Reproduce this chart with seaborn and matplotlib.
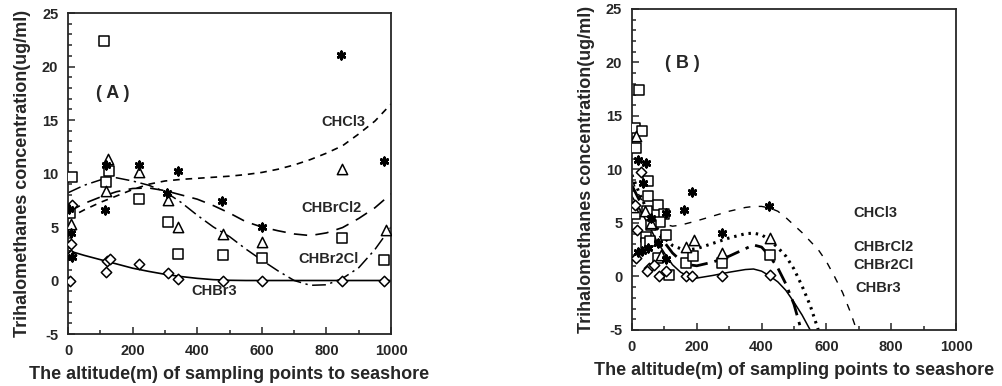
import seaborn as sns
import matplotlib.pyplot as plt
from matplotlib.ticker import MultipleLocator

# ---- panel A: measured points ----
a_chcl3_x = [4, 8, 13, 117, 114, 220, 307, 339, 478, 599, 844, 978]
a_chcl3_y = [6.7, 4.4, 2.2, 10.8, 6.6, 10.8, 8.2, 10.2, 7.4, 5.0, 21.1, 11.2]
a_chbrcl2_x = [10, 117, 124, 220, 309, 340, 480, 599, 848, 983]
a_chbrcl2_y = [5.3, 8.4, 11.4, 10.1, 7.5, 5.0, 4.3, 3.6, 10.4, 4.7]
a_chbr2cl_x = [5, 13, 111, 117, 127, 220, 309, 340, 480, 599, 848, 978]
a_chbr2cl_y = [6.3, 9.7, 22.4, 9.2, 10.2, 7.6, 5.5, 2.5, 2.4, 2.1, 4.0, 1.9]
a_chbr3_x = [5, 8, 13, 10, 117, 121, 129, 221, 309, 340, 480, 599, 848, 978]
a_chbr3_y = [0, 3.4, 7.1, 2.4, 0.8, 1.8, 2.0, 1.5, 0.7, 0.1, 0, 0, 0, 0]

# ---- panel A: fitted curves ----
a_fit_x = [0, 50, 100, 150, 200, 250, 300, 350, 400, 450, 500,
           550, 600, 650, 700, 750, 800, 850, 900, 950, 1000]
a_fit_chcl3 = [5.8, 6.6, 7.3, 7.9, 8.5, 9.0, 9.3, 9.45, 9.55, 9.65, 9.75,
               9.9, 10.1, 10.4, 10.8, 11.3, 11.9, 12.6, 13.7, 14.9, 16.5]
a_fit_chbrcl2 = [6.4, 7.2, 7.8, 8.3, 8.6, 8.65, 8.4, 8.0, 7.6, 7.0, 6.3,
                 5.5, 5.0, 4.65, 4.35, 4.2, 4.45, 4.95, 5.8, 6.8, 8.1]
a_fit_chbr2cl = [8.2, 8.9, 9.4, 9.6, 9.3, 8.9, 8.3, 7.3, 6.1, 5.0, 4.1,
                 2.95, 1.9, 0.9, 0.0, -0.45, -0.4, 0.2, 1.2, 2.9, 5.0]
a_fit_chbr3 = [2.8, 2.35, 1.95, 1.55, 1.15, 0.85, 0.58, 0.37, 0.2, 0.08, 0.02,
               0, 0, 0, 0, 0, 0, 0, 0, 0, 0]

# ---- panel B: measured points ----
b_chcl3_x = [18, 44, 34, 186, 161, 278, 423, 105, 49, 18, 31, 79, 105, 60]
b_chcl3_y = [10.9, 10.6, 8.7, 7.9, 6.2, 4.1, 6.6, 5.9, 2.65, 2.3, 2.35, 3.1, 1.6, 5.5]
b_chbrcl2_x = [11, 3, 40, 191, 166, 278, 427, 60, 90]
b_chbrcl2_y = [13.1, 6.5, 6.1, 3.4, 2.8, 2.2, 3.6, 5.0, 2.0]
b_chbr2cl_x = [21, 8, 31, 13, 49, 49, 79, 100, 47, 85, 104, 8, 44, 44, 79,
               166, 189, 278, 115, 427, 60, 55]
b_chbr2cl_y = [17.4, 13.9, 13.6, 12.0, 8.9, 7.5, 6.7, 5.8, 6.1, 5.1, 3.9, 5.8, 3.7, 3.1, 1.7,
               1.25, 1.9, 1.25, 0.15, 2.0, 4.8, 3.3]
b_chbr3_x = [29, 15, 13, 54, 46, 69, 82, 105, 166, 186, 278, 425, 8]
b_chbr3_y = [9.8, 4.3, 1.7, 0.8, 0.5, 1.1, 0.05, 0.5, 0, 0, 0, 0.1, 6.7]

# ---- panel B: fitted curves ----
b_fit_x = [0, 25, 50, 75, 100, 125, 150, 175, 200, 250, 300, 350, 375,
           400, 425, 450, 475, 500, 525, 550, 575, 600, 625, 650, 675, 700]
b_fit_chcl3 = [9.0, 7.4, 6.2, 5.4, 4.9, 4.7, 4.8, 5.0, 5.2, 5.65, 6.1, 6.45, 6.55,
               6.55, 6.4, 6.1, 5.5, 4.8, 4.1, 3.3, 2.5, 1.4, 0.0, -1.5, -3.4, -5.6]
b_fit_chbrcl2 = [9.5, 7.6, 6.0, 4.6, 3.6, 2.9, 2.6, 2.5, 2.6, 3.1, 3.6, 4.0, 4.05,
                 3.9, 3.4, 2.7, 1.9, 0.7, -0.9, -2.7, -5.0]
b_fit_chbr2cl = [8.5, 7.0, 5.6, 4.3, 3.2, 2.2, 1.5, 1.1, 1.0, 1.35, 1.9, 2.6, 2.95,
                 2.75, 1.9, 0.8, -0.7, -2.6, -5.3]
b_fit_chbr3 = [7.5, 6.2, 4.9, 3.4, 2.2, 1.1, 0.4, 0.0, -0.15, 0.1, 0.4, 0.65, 0.7,
               0.5, 0.05, -0.5, -1.3, -2.4, -3.6, -5.0]

xlabel = "The altitude(m) of sampling points to seashore"
ylabel = "Trihalomethanes concentration(ug/ml)"

sns.set_style("ticks")
plt.rcParams['font.family'] = ['Liberation Sans', 'DejaVu Sans']
plt.rcParams['font.weight'] = 'bold'
plt.rcParams['axes.unicode_minus'] = False

fig = plt.figure(figsize=(10.02, 3.86), dpi=100)
axA = fig.add_axes([0.0679, 0.1347, 0.3224, 0.8316])
axB = fig.add_axes([0.6307, 0.1451, 0.3234, 0.8316])

open_kw = dict(facecolor="white", edgecolor="black", linewidth=1.1, zorder=3)
star_kw = dict(color="black", linewidth=2.0, zorder=3)


def draw_points(ax, cx, cy, bx, by, b2x, b2y, b3x, b3y):
    sns.scatterplot(x=b2x, y=b2y, marker="s", s=60, ax=ax, **open_kw)
    sns.scatterplot(x=bx, y=by, marker="^", s=55, ax=ax, **open_kw)
    sns.scatterplot(x=b3x, y=b3y, marker="D", s=28, ax=ax, **open_kw)
    sns.scatterplot(x=cx, y=cy, marker=(6, 2, 0), s=28, ax=ax, **star_kw)


# panel A
sns.lineplot(x=a_fit_x, y=a_fit_chcl3, ax=axA, color="black", lw=1.2,
             linestyle=(0, (4, 3.5)))
sns.lineplot(x=a_fit_x, y=a_fit_chbrcl2, ax=axA, color="black", lw=1.2,
             linestyle=(0, (8, 5)))
sns.lineplot(x=a_fit_x, y=a_fit_chbr2cl, ax=axA, color="black", lw=1.1,
             linestyle=(0, (9, 3, 1.5, 3)))
sns.lineplot(x=a_fit_x, y=a_fit_chbr3, ax=axA, color="black", lw=1.2)
draw_points(axA, a_chcl3_x, a_chcl3_y, a_chbrcl2_x, a_chbrcl2_y,
            a_chbr2cl_x, a_chbr2cl_y, a_chbr3_x, a_chbr3_y)

# panel B
sns.lineplot(x=b_fit_x, y=b_fit_chcl3, ax=axB, color="black", lw=1.0,
             linestyle=(0, (5, 6)))
sns.lineplot(x=b_fit_x[:len(b_fit_chbrcl2)], y=b_fit_chbrcl2, ax=axB, color="black",
             lw=2.2, linestyle=(0, (0.8, 1.6)))
sns.lineplot(x=b_fit_x[:len(b_fit_chbr2cl)], y=b_fit_chbr2cl, ax=axB, color="black",
             lw=2.0, linestyle=(0, (6, 2.5, 1.2, 2.5)))
sns.lineplot(x=b_fit_x[:len(b_fit_chbr3)], y=b_fit_chbr3, ax=axB, color="black", lw=1.1)
draw_points(axB, b_chcl3_x, b_chcl3_y, b_chbrcl2_x, b_chbrcl2_y,
            b_chbr2cl_x, b_chbr2cl_y, b_chbr3_x, b_chbr3_y)

for ax in (axA, axB):
    ax.set_xlim(0, 1000)
    ax.set_ylim(-5, 25)
    ax.set_xticks(range(0, 1001, 200))
    ax.set_yticks(range(-5, 26, 5))
    ax.xaxis.set_minor_locator(MultipleLocator(100))
    ax.yaxis.set_minor_locator(MultipleLocator(1))
    ax.tick_params(which="both", direction="in", top=False, right=False,
                   labelsize=10.5, width=1.1, pad=7)
    ax.tick_params(which="major", length=5)
    ax.tick_params(which="minor", length=3)
    for lab in ax.get_xticklabels() + ax.get_yticklabels():
        lab.set_fontweight("bold")
    for sp in ax.spines.values():
        sp.set_visible(True)
        sp.set_linewidth(1.3)
    ax.set_xlabel(xlabel, fontsize=13, fontweight="bold", labelpad=6)
    ax.set_ylabel(ylabel, fontsize=13, fontweight="bold", labelpad=8)

txt = dict(fontsize=10.5, fontweight="bold", va="center", ha="left")
axA.text(139, 17.5, "( A )", fontsize=13, fontweight="bold", ha="center", va="center")
axA.text(784, 14.8, "CHCl3", **txt)
axA.text(722, 6.8, "CHBrCl2", **txt)
axA.text(712, 2.0, "CHBr2Cl", **txt)
axA.text(382, -1.0, "CHBr3", **txt)

axB.text(156, 19.9, "( B )", fontsize=13, fontweight="bold", ha="center", va="center")
axB.text(684, 5.9, "CHCl3", **txt)
axB.text(684, 2.8, "CHBrCl2", **txt)
axB.text(684, 1.1, "CHBr2Cl", **txt)
axB.text(690, -1.1, "CHBr3", **txt)

fig.savefig("out.png", dpi=100)
